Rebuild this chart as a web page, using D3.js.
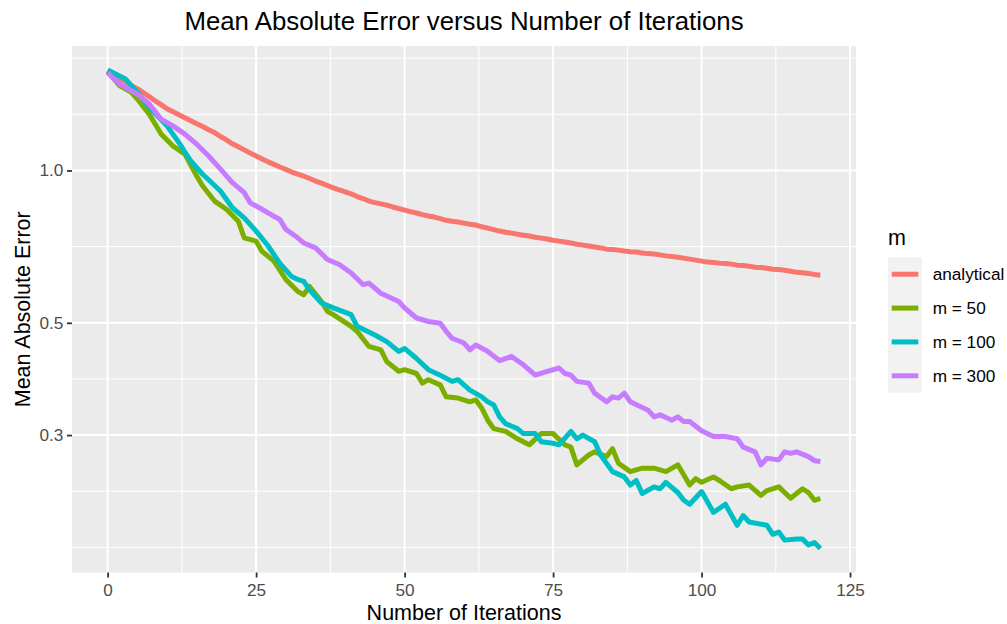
<!DOCTYPE html>
<html><head><meta charset="utf-8">
<script src="https://cdn.jsdelivr.net/npm/d3@7"></script>
<style>
body{margin:0;background:#fff}
text{font-family:"Liberation Sans",Arial,Helvetica,sans-serif}
</style>
</head><body>
<svg id="c" width="1007" height="624"></svg>
<script>
// ---------------- data ----------------
const chartTitle = "Mean Absolute Error versus Number of Iterations";
const xTitle = "Number of Iterations";
const yTitle = "Mean Absolute Error";
const legendTitle = "m";
const seriesNames = ["analytical", "m = 50", "m = 100", "m = 300"];
const seriesColors = ["#F8766D", "#7CAE00", "#00BFC4", "#C77CFF"];
const xTicks = [0, 25, 50, 75, 100, 125];
const yTicks = [0.3, 0.5, 1.0];
const yTickLabels = ["0.3", "0.5", "1.0"];

// analytical: one value per iteration 0..120
const analytical = [
  1.575,1.547,1.519,1.498,1.471,1.451,1.425,1.399,1.373,1.349,
  1.324,1.306,1.289,1.271,1.254,1.237,1.221,1.204,1.188,1.167,
  1.149,1.129,1.114,1.098,1.083,1.068,1.054,1.040,1.028,1.016,
  1.005,0.993,0.984,0.975,0.964,0.953,0.944,0.934,0.924,0.915,
  0.907,0.899,0.888,0.880,0.870,0.864,0.859,0.854,0.847,0.841,
  0.835,0.829,0.824,0.818,0.813,0.809,0.803,0.797,0.794,0.791,
  0.787,0.783,0.780,0.774,0.769,0.764,0.759,0.755,0.752,0.748,
  0.745,0.742,0.738,0.735,0.732,0.728,0.725,0.722,0.719,0.715,
  0.712,0.709,0.706,0.703,0.699,0.698,0.696,0.693,0.691,0.690,
  0.687,0.685,0.684,0.681,0.678,0.676,0.674,0.671,0.668,0.665,
  0.662,0.659,0.658,0.656,0.655,0.653,0.650,0.649,0.647,0.644,
  0.643,0.641,0.638,0.637,0.635,0.632,0.629,0.628,0.626,0.623,
  0.621
];

const m50Iter = [0,2,4,5,7,8,9,11,13,15,16,18,20,22,23,25,26,28,30,32,33,34,36,37,38,41,42,44,46,47,49,50,52,53,54,56,57,59,61,62,63,64,65,67,69,71,73,75,77,78,79,81,82,84,85,86,88,90,92,94,96,98,99,100,102,103,105,106,108,110,111,113,115,117,118,119,120];
const m50Err = [1.570,1.471,1.427,1.384,1.292,1.235,1.180,1.118,1.077,0.975,0.932,0.870,0.838,0.794,0.736,0.725,0.692,0.662,0.609,0.577,0.568,0.590,0.551,0.527,0.519,0.492,0.481,0.449,0.442,0.419,0.401,0.404,0.397,0.380,0.386,0.377,0.357,0.355,0.349,0.352,0.339,0.321,0.309,0.305,0.295,0.287,0.302,0.302,0.287,0.284,0.262,0.274,0.278,0.272,0.282,0.264,0.254,0.258,0.258,0.254,0.262,0.239,0.246,0.242,0.248,0.244,0.235,0.237,0.239,0.228,0.233,0.237,0.225,0.235,0.231,0.223,0.225];

const m100Iter = [0,3,5,7,10,12,14,16,19,21,23,25,27,29,31,32,33,34,36,38,41,42,45,47,49,50,52,54,56,58,59,61,63,64,65,66,67,69,70,72,73,75,76,78,79,80,82,83,85,87,88,89,90,92,93,94,96,97,98,100,102,104,106,107,108,111,112,113,114,116,117,118,119,120];
const m100Err = [1.580,1.516,1.427,1.332,1.225,1.135,1.044,0.983,0.911,0.844,0.806,0.759,0.710,0.655,0.617,0.609,0.604,0.581,0.547,0.535,0.519,0.492,0.473,0.459,0.439,0.445,0.425,0.404,0.394,0.383,0.386,0.368,0.357,0.349,0.344,0.326,0.316,0.309,0.302,0.302,0.291,0.289,0.287,0.305,0.295,0.300,0.291,0.274,0.254,0.248,0.239,0.244,0.230,0.237,0.235,0.242,0.231,0.223,0.219,0.232,0.211,0.219,0.199,0.208,0.202,0.199,0.191,0.193,0.186,0.187,0.187,0.182,0.184,0.179];

const m300Iter = [0,2,5,7,9,11,13,15,17,19,21,23,24,26,28,29,30,32,33,35,37,39,41,43,44,46,49,50,52,54,56,57,58,60,61,62,64,66,68,70,72,74,76,77,78,79,81,82,84,85,86,87,88,91,92,93,95,96,97,98,100,102,104,106,107,109,110,111,113,114,115,116,118,119,120];
const m300Err = [1.560,1.482,1.416,1.353,1.263,1.225,1.180,1.127,1.068,1.006,0.946,0.904,0.863,0.838,0.812,0.800,0.765,0.736,0.719,0.703,0.667,0.652,0.627,0.595,0.599,0.572,0.551,0.535,0.511,0.503,0.499,0.481,0.466,0.456,0.442,0.452,0.439,0.421,0.429,0.413,0.394,0.401,0.407,0.397,0.394,0.383,0.380,0.363,0.349,0.357,0.355,0.363,0.349,0.336,0.326,0.329,0.321,0.326,0.319,0.319,0.306,0.298,0.298,0.295,0.284,0.278,0.262,0.270,0.268,0.278,0.276,0.278,0.272,0.267,0.266];

// ---------------- build ----------------
const series = [
  {name: seriesNames[0], color: seriesColors[0], pts: analytical.map((v, i) => [i, v])},
  {name: seriesNames[1], color: seriesColors[1], pts: m50Iter.map((it, i) => [it, m50Err[i]])},
  {name: seriesNames[2], color: seriesColors[2], pts: m100Iter.map((it, i) => [it, m100Err[i]])},
  {name: seriesNames[3], color: seriesColors[3], pts: m300Iter.map((it, i) => [it, m300Err[i]])}
];

const P = {l: 72, r: 856, t: 46, b: 572.5};
const svg = d3.select("#c");

const allPts = series.flatMap(s => s.pts);
const xe = d3.extent(allPts, d => d[0]);
const xp = (xe[1] - xe[0]) * 0.05;
const x = d3.scaleLinear().domain([xe[0] - xp, xe[1] + xp]).range([P.l, P.r]);
const le = d3.extent(allPts, d => Math.log10(d[1]));
const lp = (le[1] - le[0]) * 0.05;
const y = d3.scaleLog().domain([Math.pow(10, le[0] - lp), Math.pow(10, le[1] + lp)]).range([P.b, P.t]);

// panel
svg.append("rect").attr("x", P.l).attr("y", P.t).attr("width", P.r - P.l).attr("height", P.b - P.t).attr("fill", "#EBEBEB");

// minor breaks (ggplot style, in transformed space)
function minorBreaks(b, lo, hi) {
  const bd = b[1] - b[0];
  let e = b.slice();
  if (lo < e[0]) e = [e[0] - bd].concat(e);
  if (hi > e[e.length - 1]) e = e.concat([e[e.length - 1] + bd]);
  const out = [];
  for (let i = 0; i < e.length - 1; i++) { out.push(e[i], (e[i] + e[i + 1]) / 2); }
  out.push(e[e.length - 1]);
  return out.filter(v => v >= lo && v <= hi);
}
const xd = x.domain();
const xMinor = minorBreaks(xTicks, xd[0], xd[1]);
const yd = y.domain().map(Math.log10);
const yMinor = minorBreaks(yTicks.map(Math.log10), yd[0], yd[1]).map(v => Math.pow(10, v));

const grid = svg.append("g");
grid.selectAll(".xm").data(xMinor).join("line")
  .attr("x1", d => x(d)).attr("x2", d => x(d)).attr("y1", P.t).attr("y2", P.b)
  .attr("stroke", "#fff").attr("stroke-width", 1);
grid.selectAll(".ym").data(yMinor).join("line").attr("class", "ym")
  .attr("y1", d => y(d)).attr("y2", d => y(d)).attr("x1", P.l).attr("x2", P.r)
  .attr("stroke", "#fff").attr("stroke-width", 1);
grid.selectAll(".xM").data(xTicks.filter(v => v >= xd[0] && v <= xd[1])).join("line").attr("class", "xM")
  .attr("x1", d => x(d)).attr("x2", d => x(d)).attr("y1", P.t).attr("y2", P.b)
  .attr("stroke", "#fff").attr("stroke-width", 2);
grid.selectAll(".yM").data(yTicks).join("line").attr("class", "yM")
  .attr("y1", d => y(d)).attr("y2", d => y(d)).attr("x1", P.l).attr("x2", P.r)
  .attr("stroke", "#fff").attr("stroke-width", 2);

// lines
const line = d3.line().x(d => x(d[0])).y(d => y(d[1]));
svg.append("g").selectAll("path").data(series).join("path")
  .attr("d", d => line(d.pts)).attr("fill", "none")
  .attr("stroke", d => d.color).attr("stroke-width", 5)
  .attr("stroke-linejoin", "round").attr("stroke-linecap", "butt");

// axes
const yAxis = d3.axisLeft(y).tickValues(yTicks).tickFormat((d, i) => yTickLabels[i]).tickSize(5).tickPadding(3.7);
const gy = svg.append("g").attr("transform", `translate(${P.l},0)`).call(yAxis);
const xAxis = d3.axisBottom(x).tickValues(xTicks).tickSize(5).tickPadding(6);
const gx = svg.append("g").attr("transform", `translate(0,${P.b})`).call(xAxis);
[gx, gy].forEach(g => {
  g.select(".domain").remove();
  g.selectAll(".tick line").attr("stroke", "#333333").attr("stroke-width", 1.8);
  g.selectAll(".tick text").attr("fill", "#4D4D4D").style("font-size", "17.2px")
    .style("font-family", '"Liberation Sans",Arial,Helvetica,sans-serif');
});

// titles
const cx = (P.l + P.r) / 2;
svg.append("text").attr("x", cx).attr("y", 30).attr("text-anchor", "middle")
  .style("font-size", "25.8px").attr("fill", "#000").text(chartTitle);
svg.append("text").attr("x", cx).attr("y", 620).attr("text-anchor", "middle")
  .style("font-size", "21.5px").attr("fill", "#000").text(xTitle);
svg.append("text").attr("transform", `translate(30,${(P.t + P.b) / 2}) rotate(-90)`).attr("text-anchor", "middle")
  .style("font-size", "21.5px").attr("fill", "#000").text(yTitle);

// legend
const lg = svg.append("g");
lg.append("text").attr("x", 888).attr("y", 245).style("font-size", "21.5px").attr("fill", "#000").text(legendTitle);
const keyH = 33.85, keyTop = 257.3;
const items = lg.selectAll(".item").data(series).join("g").attr("class", "item")
  .attr("transform", (d, i) => `translate(888,${keyTop + i * keyH})`);
items.append("rect").attr("width", 34).attr("height", keyH).attr("fill", "#F2F2F2");
items.append("line").attr("x1", 3.7).attr("x2", 30.3).attr("y1", keyH / 2).attr("y2", keyH / 2)
  .attr("stroke", d => d.color).attr("stroke-width", 5);
items.append("text").attr("x", 44.7).attr("y", keyH / 2).attr("dy", "0.35em")
  .style("font-size", "17.2px").attr("fill", "#000").text(d => d.name);
</script>
</body></html>
